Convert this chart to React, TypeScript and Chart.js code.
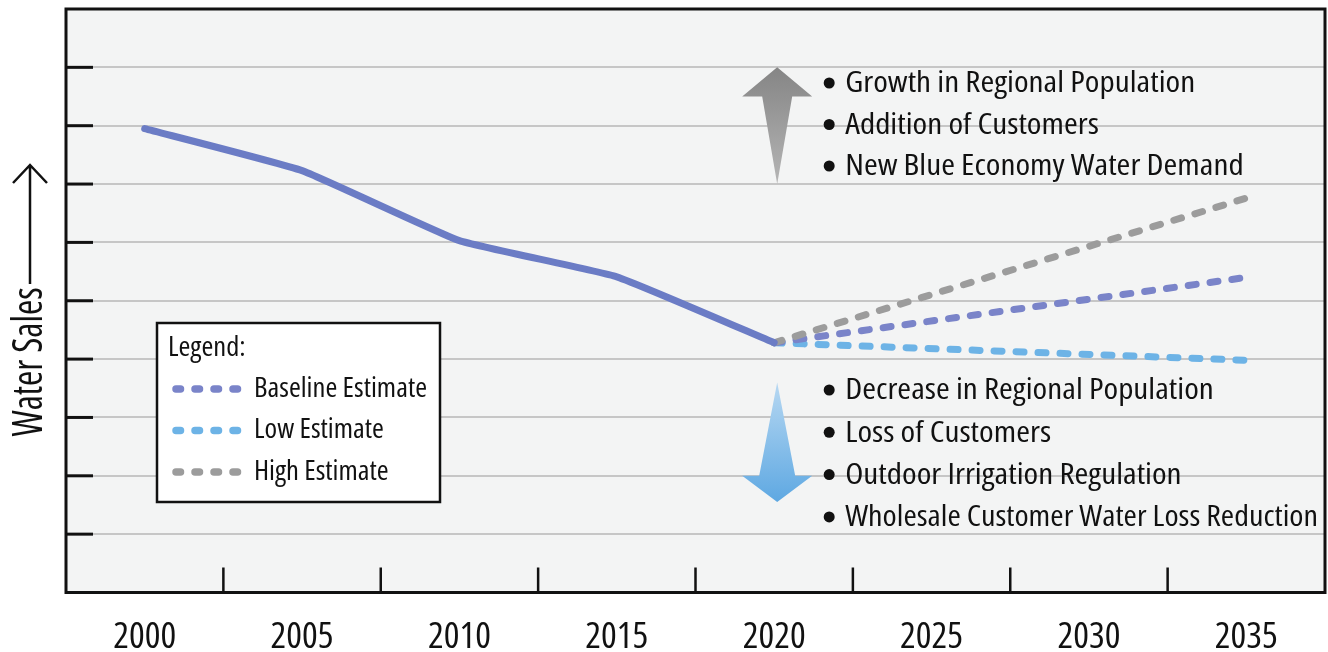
import React, { useEffect, useRef } from "react";
import { Chart, registerables } from "chart.js";

Chart.register(...registerables);

// ---- data ----
const historyYears = [2000, 2005, 2010, 2015, 2020];
const historyValues = [7.95, 7.23, 6.03, 5.41, 4.28];
const projectionYears = [2020, 2035];
const baselineValues = [4.28, 5.4];
const lowValues = [4.28, 3.98];
const highValues = [4.28, 6.76];
const tickYears = [2000, 2005, 2010, 2015, 2020, 2025, 2030, 2035];
const seriesLabels = ["Baseline Estimate", "Low Estimate", "High Estimate"];
const upNotes = ["Growth in Regional Population", "Addition of Customers", "New Blue Economy Water Demand"];
const downNotes = [
  "Decrease in Regional Population",
  "Loss of Customers",
  "Outdoor Irrigation Regulation",
  "Wholesale Customer Water Loss Reduction",
];
const axisTitle = "Water Sales";
const legendTitle = "Legend:";

const FAMILY = '"Open Sans", "DejaVu Sans Condensed", sans-serif';

const COLORS = {
  history: "#6b7cc5",
  baseline: "#7a84c9",
  low: "#6db3e6",
  high: "#9c9c9c",
};

function fitText(ctx: any, txt: string, x: number, y: number, sx: number, maxW?: number) {
  ctx.save();
  ctx.translate(x, y);
  ctx.scale(sx, 1);
  if (maxW) ctx.fillText(txt, 0, 0, maxW / sx);
  else ctx.fillText(txt, 0, 0);
  ctx.restore();
}

const decorPlugin = {
  id: "decor",
  beforeDraw(chart: any) {
    const { ctx, chartArea: a } = chart;
    ctx.save();
    ctx.fillStyle = "#ffffff";
    ctx.fillRect(0, 0, chart.width, chart.height);
    ctx.fillStyle = "#f3f4f4";
    ctx.fillRect(a.left, a.top, a.right - a.left, a.bottom - a.top);
    ctx.restore();
  },
  afterDatasetsDraw(chart: any) {
    const { ctx, chartArea: a } = chart;
    const xs = chart.scales.x;
    const ys = chart.scales.y;
    ctx.save();

    // inward ticks on the value axis
    ctx.strokeStyle = "#111";
    ctx.lineWidth = 3;
    for (let v = 1; v <= 9; v++) {
      const y = ys.getPixelForValue(v);
      ctx.beginPath();
      ctx.moveTo(a.left, y);
      ctx.lineTo(a.left + 27, y);
      ctx.stroke();
    }
    // inward ticks on the year axis, between labels
    ctx.lineWidth = 2.5;
    for (let i = 0; i < tickYears.length - 1; i++) {
      const x = xs.getPixelForValue((tickYears[i] + tickYears[i + 1]) / 2);
      ctx.beginPath();
      ctx.moveTo(x, a.bottom);
      ctx.lineTo(x, a.bottom - 25);
      ctx.stroke();
    }
    ctx.lineWidth = 3;
    ctx.strokeRect(a.left, a.top, a.right - a.left, a.bottom - a.top);

    // legend box
    const lx = a.left + 91;
    const ly = a.top + 314;
    const lw = 283;
    const lh = 179;
    ctx.fillStyle = "#ffffff";
    ctx.fillRect(lx, ly, lw, lh);
    ctx.lineWidth = 2.5;
    ctx.strokeStyle = "#111";
    ctx.strokeRect(lx, ly, lw, lh);
    ctx.fillStyle = "#111";
    ctx.font = `condensed 28px ${FAMILY}`;
    ctx.textBaseline = "middle";
    ctx.textAlign = "left";
    const legSx = 173 / ctx.measureText(seriesLabels[0]).width;
    fitText(ctx, legendTitle, lx + 11, ly + 25, legSx);
    const dsByLabel: any = {};
    chart.data.datasets.forEach((d: any) => (dsByLabel[d.label] = d));
    seriesLabels.forEach((lab, i) => {
      const yy = ly + 66 + i * 41.5;
      const ds = dsByLabel[lab];
      ctx.save();
      ctx.strokeStyle = ds.borderColor;
      ctx.lineWidth = 7.5;
      ctx.lineCap = "round";
      ctx.setLineDash([4.5, 14.5]);
      ctx.beginPath();
      ctx.moveTo(lx + 19, yy);
      ctx.lineTo(lx + 84, yy);
      ctx.stroke();
      ctx.restore();
      ctx.fillStyle = "#111";
      fitText(ctx, lab, lx + 97, yy, legSx);
    });

    // arrows
    const ax = xs.getPixelForValue(2020) + 3;
    {
      const tip = ys.getPixelForValue(9.0);
      const wing = ys.getPixelForValue(8.5);
      const tail = ys.getPixelForValue(7.0);
      const g = ctx.createLinearGradient(0, tip, 0, tail);
      g.addColorStop(0, "#858585");
      g.addColorStop(1, "#b5b5b5");
      ctx.fillStyle = g;
      ctx.beginPath();
      ctx.moveTo(ax, tip);
      ctx.lineTo(ax + 35, wing);
      ctx.lineTo(ax + 15, wing);
      ctx.lineTo(ax, tail);
      ctx.lineTo(ax - 15, wing);
      ctx.lineTo(ax - 35, wing);
      ctx.closePath();
      ctx.fill();
    }
    {
      const start = ys.getPixelForValue(3.6);
      const wing = ys.getPixelForValue(2.0);
      const tip = ys.getPixelForValue(1.55);
      const g = ctx.createLinearGradient(0, start, 0, tip);
      g.addColorStop(0, "#b7d8f2");
      g.addColorStop(1, "#5ea8e2");
      ctx.fillStyle = g;
      ctx.beginPath();
      ctx.moveTo(ax, start);
      ctx.lineTo(ax + 18, wing);
      ctx.lineTo(ax + 35, wing);
      ctx.lineTo(ax, tip);
      ctx.lineTo(ax - 35, wing);
      ctx.lineTo(ax - 18, wing);
      ctx.closePath();
      ctx.fill();
    }

    // bullet notes
    ctx.font = `semi-condensed 29px ${FAMILY}`;
    ctx.textBaseline = "middle";
    ctx.textAlign = "left";
    const noteSx = 350 / ctx.measureText(upNotes[0]).width;
    const bx = ax + 52;
    const maxW = a.right - 7 - (bx + 16);
    const drawNotes = (notes: string[], y0: number, step: number) => {
      notes.forEach((t, i) => {
        const yy = y0 + i * step;
        ctx.fillStyle = "#111";
        ctx.beginPath();
        ctx.arc(bx, yy - 1, 5.5, 0, Math.PI * 2);
        ctx.fill();
        fitText(ctx, t, bx + 16, yy, noteSx, maxW);
      });
    };
    drawNotes(upNotes, a.top + 75, 41.5);
    drawNotes(downNotes, a.top + 382, 42.3);

    // value-axis title with arrow
    ctx.save();
    ctx.font = `condensed 42px ${FAMILY}`;
    const titleSx = 149 / ctx.measureText(axisTitle).width;
    ctx.translate(42, 362);
    ctx.rotate(-Math.PI / 2);
    ctx.textAlign = "center";
    ctx.textBaseline = "alphabetic";
    ctx.fillStyle = "#111";
    ctx.scale(titleSx, 1);
    ctx.fillText(axisTitle, 0, 0);
    ctx.restore();
    ctx.strokeStyle = "#111";
    ctx.lineWidth = 2.5;
    ctx.beginPath();
    ctx.moveTo(30, 284);
    ctx.lineTo(30, 166);
    ctx.moveTo(13, 183);
    ctx.lineTo(30, 165);
    ctx.lineTo(47, 183);
    ctx.stroke();

    ctx.restore();
  },
};

export default function App() {
  const ref = useRef<HTMLCanvasElement | null>(null);
  useEffect(() => {
    if (!ref.current) return;
    const toPts = (xsArr: number[], ysArr: number[]) => xsArr.map((x, i) => ({ x, y: ysArr[i] }));
    const dashed = (label: string, color: string, vals: number[]) => ({
      label,
      data: toPts(projectionYears, vals),
      borderColor: color,
      backgroundColor: color,
      borderWidth: 7,
      borderDash: [8, 14],
      borderCapStyle: "round",
      pointRadius: 0,
      tension: 0,
    });
    const chart = new Chart(ref.current, {
      type: "line",
      data: {
        datasets: [
          {
            label: "Historical",
            data: toPts(historyYears, historyValues),
            borderColor: COLORS.history,
            backgroundColor: COLORS.history,
            borderWidth: 7,
            borderCapStyle: "round",
            borderJoinStyle: "round",
            pointRadius: 0,
            tension: 0.12,
          } as any,
          dashed(seriesLabels[2], COLORS.high, highValues) as any,
          dashed(seriesLabels[0], COLORS.baseline, baselineValues) as any,
          dashed(seriesLabels[1], COLORS.low, lowValues) as any,
        ],
      },
      options: {
        animation: false,
        responsive: false,
        maintainAspectRatio: false,
        layout: { padding: { left: 66, top: 9, right: 3, bottom: -29.5 } },
        plugins: { legend: { display: false }, tooltip: { enabled: false }, title: { display: false } },
        scales: {
          x: {
            type: "linear",
            min: 1997.5,
            max: 2037.5,
            afterBuildTicks: (scale: any) => {
              scale.ticks = tickYears.map((v) => ({ value: v }));
            },
            ticks: {
              callback: (v: any) => String(v),
              autoSkip: false,
              maxRotation: 0,
              padding: 26,
              color: "#111",
              font: { family: FAMILY, size: 37, weight: "condensed", lineHeight: 1 },
            },
            grid: { display: false, drawTicks: false },
            border: { display: false },
          },
          y: {
            type: "linear",
            min: 0,
            max: 10,
            ticks: { display: false, stepSize: 1 },
            grid: { color: "#c6c6c6", lineWidth: 2, drawTicks: false },
            border: { display: false },
          },
        },
      } as any,
      plugins: [decorPlugin],
    });
    return () => chart.destroy();
  }, []);
  return (
    <div style={{ position: "absolute", left: 0, top: 0, width: 1328, height: 652 }}>
      <canvas ref={ref} width={1328} height={652} style={{ display: "block" }} />
    </div>
  );
}
